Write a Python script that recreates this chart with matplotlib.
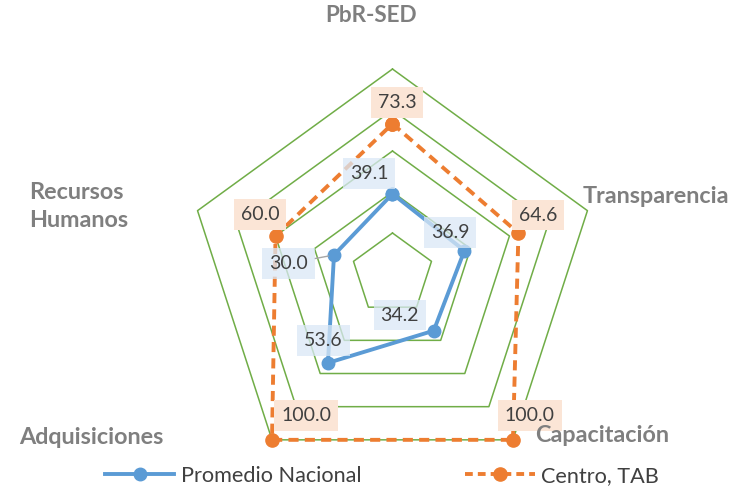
import numpy as np
import matplotlib
matplotlib.use('Agg')
import matplotlib.pyplot as plt
from matplotlib.lines import Line2D

plt.rcParams['font.family'] = ['Lato', 'DejaVu Sans']

# DATOS
categorias = ['PbR-SED', 'Transparencia', 'Capacitación', 'Adquisiciones', 'Recursos\nHumanos']
promedio_nacional = [39.1, 36.9, 34.2, 53.6, 30.0]
centro_tab = [73.3, 64.6, 100.0, 100.0, 60.0]
niveles = [20, 40, 60, 80, 100]

AZUL = '#5B9BD5'
NARANJA = '#ED7D31'
VERDE = '#70AD47'
GRIS_TXT = '#404040'
GRIS_CAT = '#7F7F7F'

n = len(categorias)
ang = np.linspace(0, 2 * np.pi, n, endpoint=False)
ang_c = np.append(ang, ang[0])

fig = plt.figure(figsize=(7.33, 4.9), dpi=100)
ax = fig.add_axes([0.2558, 0.02245, 0.5593, 0.8367], projection='polar')
ax.set_theta_offset(np.pi / 2)
ax.set_theta_direction(-1)
ax.set_ylim(0, 100)
ax.grid(False)
ax.spines['polar'].set_visible(False)
ax.set_xticks([])
ax.set_yticks([])
ax.patch.set_alpha(0)

# rejilla pentagonal
for lv in niveles:
    ax.plot(ang_c, [lv] * (n + 1), color=VERDE, lw=1.1, zorder=1, clip_on=False)

# series
ax.plot(ang_c, centro_tab + centro_tab[:1], color=NARANJA, lw=2.8,
        linestyle=(0, (2.6, 1.6)), marker='o', markersize=9.5, zorder=3, clip_on=False)
ax.plot(ang_c, promedio_nacional + promedio_nacional[:1], color=AZUL, lw=2.8,
        marker='o', markersize=9, zorder=4, clip_on=False)

# etiquetas de datos (desplazamiento en puntos)
off_azul = [(-16.6, 14.8), (-10.1, 13.0), (-24.5, 11.2), (-3.2, 16.2), (-32.8, -6.1)]
off_naranja = [(3.2, 15.5), (14.0, 13.0), (12.2, 17.6), (24.5, 17.6), (-11.2, 15.5)]

for i, v in enumerate(promedio_nacional):
    kw = {}
    if i == 4:
        kw['arrowprops'] = dict(arrowstyle='-', color='#A6A6A6', lw=1, shrinkA=0, shrinkB=4)
    ax.annotate(f'{v:.1f}', xy=(ang[i], v), xytext=off_azul[i], textcoords='offset points',
                ha='center', va='center', fontsize=14, color=GRIS_TXT, zorder=6,
                bbox=dict(boxstyle='square,pad=0.35', fc='#DAE8F6', ec='none', alpha=0.75), **kw)

for i, v in enumerate(centro_tab):
    ax.annotate(f'{v:.1f}', xy=(ang[i], v), xytext=off_naranja[i], textcoords='offset points',
                ha='center', va='center', fontsize=14, color=GRIS_TXT, zorder=5,
                bbox=dict(boxstyle='square,pad=0.35', fc='#FBE5D6', ec='none'))

# etiquetas de categorias
off_cat = [(-15.1, 38.2, 'center', 16.2), (-3.6, 10.1, 'left', 16.8), (15.8, 3.0, 'left', 16.8),
           (-78.3, 2.0, 'right', 16.8), (-49.7, 3.0, 'right', 16.8)]
for i, cat in enumerate(categorias):
    dx, dy, ha, fs = off_cat[i]
    ax.annotate(cat, xy=(ang[i], 100), xytext=(dx, dy), textcoords='offset points',
                ha=ha, va='center', multialignment='left', fontsize=fs, zorder=7,
                fontweight='bold', color=GRIS_CAT, linespacing=1.4, annotation_clip=False)

# leyenda
h1 = Line2D([], [], color=AZUL, lw=2.8, marker='o', markersize=9)
h2 = Line2D([], [], color=NARANJA, lw=2.8, linestyle=(0, (2.0, 1.3)), marker='o', markersize=9.5)
fig.legend([h1, h2], ['Promedio Nacional', 'Centro, TAB'], loc='center left',
           bbox_to_anchor=(105 / 733, 14 / 490), ncol=2, frameon=False, fontsize=15.6,
           handlelength=3.2, handletextpad=0.3, columnspacing=4.8, borderpad=0,
           borderaxespad=0, labelcolor=GRIS_TXT)

fig.savefig('out.png', dpi=100)
